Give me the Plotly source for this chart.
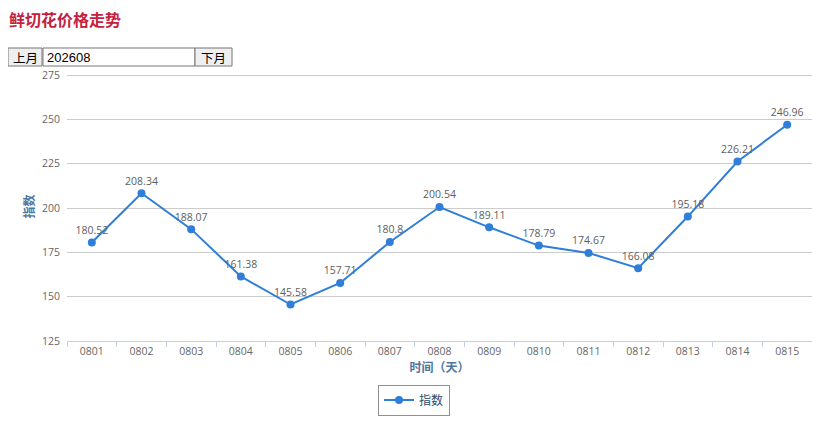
import plotly.graph_objects as go

# ---- data ----
days = ["0801", "0802", "0803", "0804", "0805", "0806", "0807", "0808",
        "0809", "0810", "0811", "0812", "0813", "0814", "0815"]
index_values = [180.52, 208.34, 188.07, 161.38, 145.58, 157.71, 180.8, 200.54,
                189.11, 178.79, 174.67, 166.08, 195.18, 226.21, 246.96]
value_labels = ["180.52", "208.34", "188.07", "161.38", "145.58", "157.71", "180.8", "200.54",
                "189.11", "178.79", "174.67", "166.08", "195.18", "226.21", "246.96"]
y_ticks = [125, 150, 175, 200, 225, 250, 275]
series_name = "指数"
title_text = "鲜切花价格走势"
month_text = "202608"

# ---- geometry (window pixels; page body has an 8px margin) ----
OFF = 8
W_FIG, H_FIG = 820 - OFF, 425 - OFF
L, R, T, B = 67, 812, 72, 341          # plot area in window pixels
PW, PH = R - L, B - T


def px(x):
    return (x - L) / PW


def py(y):
    return (B - y) / PH


FONT = "Open Sans, DejaVu Sans, sans-serif"
CJK = "Noto Sans CJK SC, sans-serif"
LINE_COLOR = "#2f7ed8"

fig = go.Figure()
fig.add_trace(go.Scatter(
    x=days, y=index_values, name=series_name,
    mode="lines+markers+text",
    text=value_labels, textposition="top center",
    textfont=dict(family=FONT, size=10.5, color="#606060"),
    line=dict(color=LINE_COLOR, width=2),
    marker=dict(color=LINE_COLOR, size=8),
    cliponaxis=False,
))

shapes = []
annotations = []

# title
annotations.append(dict(
    text="<b>" + title_text + "</b>", xref="paper", yref="paper",
    x=px(7), y=py(19), xanchor="left", yanchor="middle", showarrow=False,
    font=dict(family=CJK, size=16, color="#c4213f")))


# buttons / input box
def box(x0, x1, y0, y1, fill, line):
    shapes.append(dict(type="rect", xref="paper", yref="paper",
                       x0=px(x0), x1=px(x1), y0=py(y1), y1=py(y0),
                       fillcolor=fill, line=dict(color=line, width=1), layer="above"))


box(8, 42, 48, 66, "#efefef", "#767676")
box(43, 195, 48, 66, "#ffffff", "#767676")
box(195, 232, 48, 66, "#efefef", "#767676")
annotations.append(dict(text="上月", xref="paper", yref="paper", x=px(25), y=py(57.5),
                        xanchor="center", yanchor="middle", showarrow=False,
                        font=dict(family=CJK, size=12.5, color="#000000")))
annotations.append(dict(text="下月", xref="paper", yref="paper", x=px(213.5), y=py(57.5),
                        xanchor="center", yanchor="middle", showarrow=False,
                        font=dict(family=CJK, size=12.5, color="#000000")))
annotations.append(dict(text=month_text, xref="paper", yref="paper", x=px(45), y=py(57.5),
                        xanchor="left", yanchor="middle", showarrow=False,
                        font=dict(family="Liberation Sans, Arial, sans-serif", size=13, color="#000000")))

fig.update_layout(
    width=W_FIG, height=H_FIG,
    margin=dict(l=L - OFF, r=820 - R, t=T - OFF, b=425 - B, autoexpand=False),
    paper_bgcolor="white", plot_bgcolor="white",
    showlegend=True,
    legend=dict(
        x=px(414), y=py(400), xanchor="center", yanchor="middle",
        orientation="h",
        bordercolor="#909090", borderwidth=1, bgcolor="white",
        font=dict(family=CJK, size=12, color="#274b6d"),
        itemwidth=30,
    ),
    shapes=shapes, annotations=annotations,
    xaxis=dict(
        type="category", range=[-0.5, len(days) - 0.5],
        showgrid=False, showline=True, linecolor="#C0D0E0", linewidth=1,
        ticks="outside", tickson="boundaries", ticklen=5, tickcolor="#C0D0E0",
        tickfont=dict(family=FONT, size=10.5, color="#666666"),
        title=dict(text="<b>时间（天）</b>", standoff=6,
                   font=dict(family=CJK, size=12, color="#4d759e")),
        fixedrange=True,
    ),
    yaxis=dict(
        range=[125, 276.69], tickmode="array", tickvals=y_ticks,
        showgrid=True, gridcolor="#cccccc", gridwidth=1,
        zeroline=False, showline=False, ticks="",
        ticklabelstandoff=6,
        tickfont=dict(family=FONT, size=10.5, color="#666666"),
        title=dict(text="<b>" + series_name + "</b>", standoff=4,
                   font=dict(family=CJK, size=12, color="#4d759e")),
        fixedrange=True,
    ),
)

fig.write_html("out.html")
